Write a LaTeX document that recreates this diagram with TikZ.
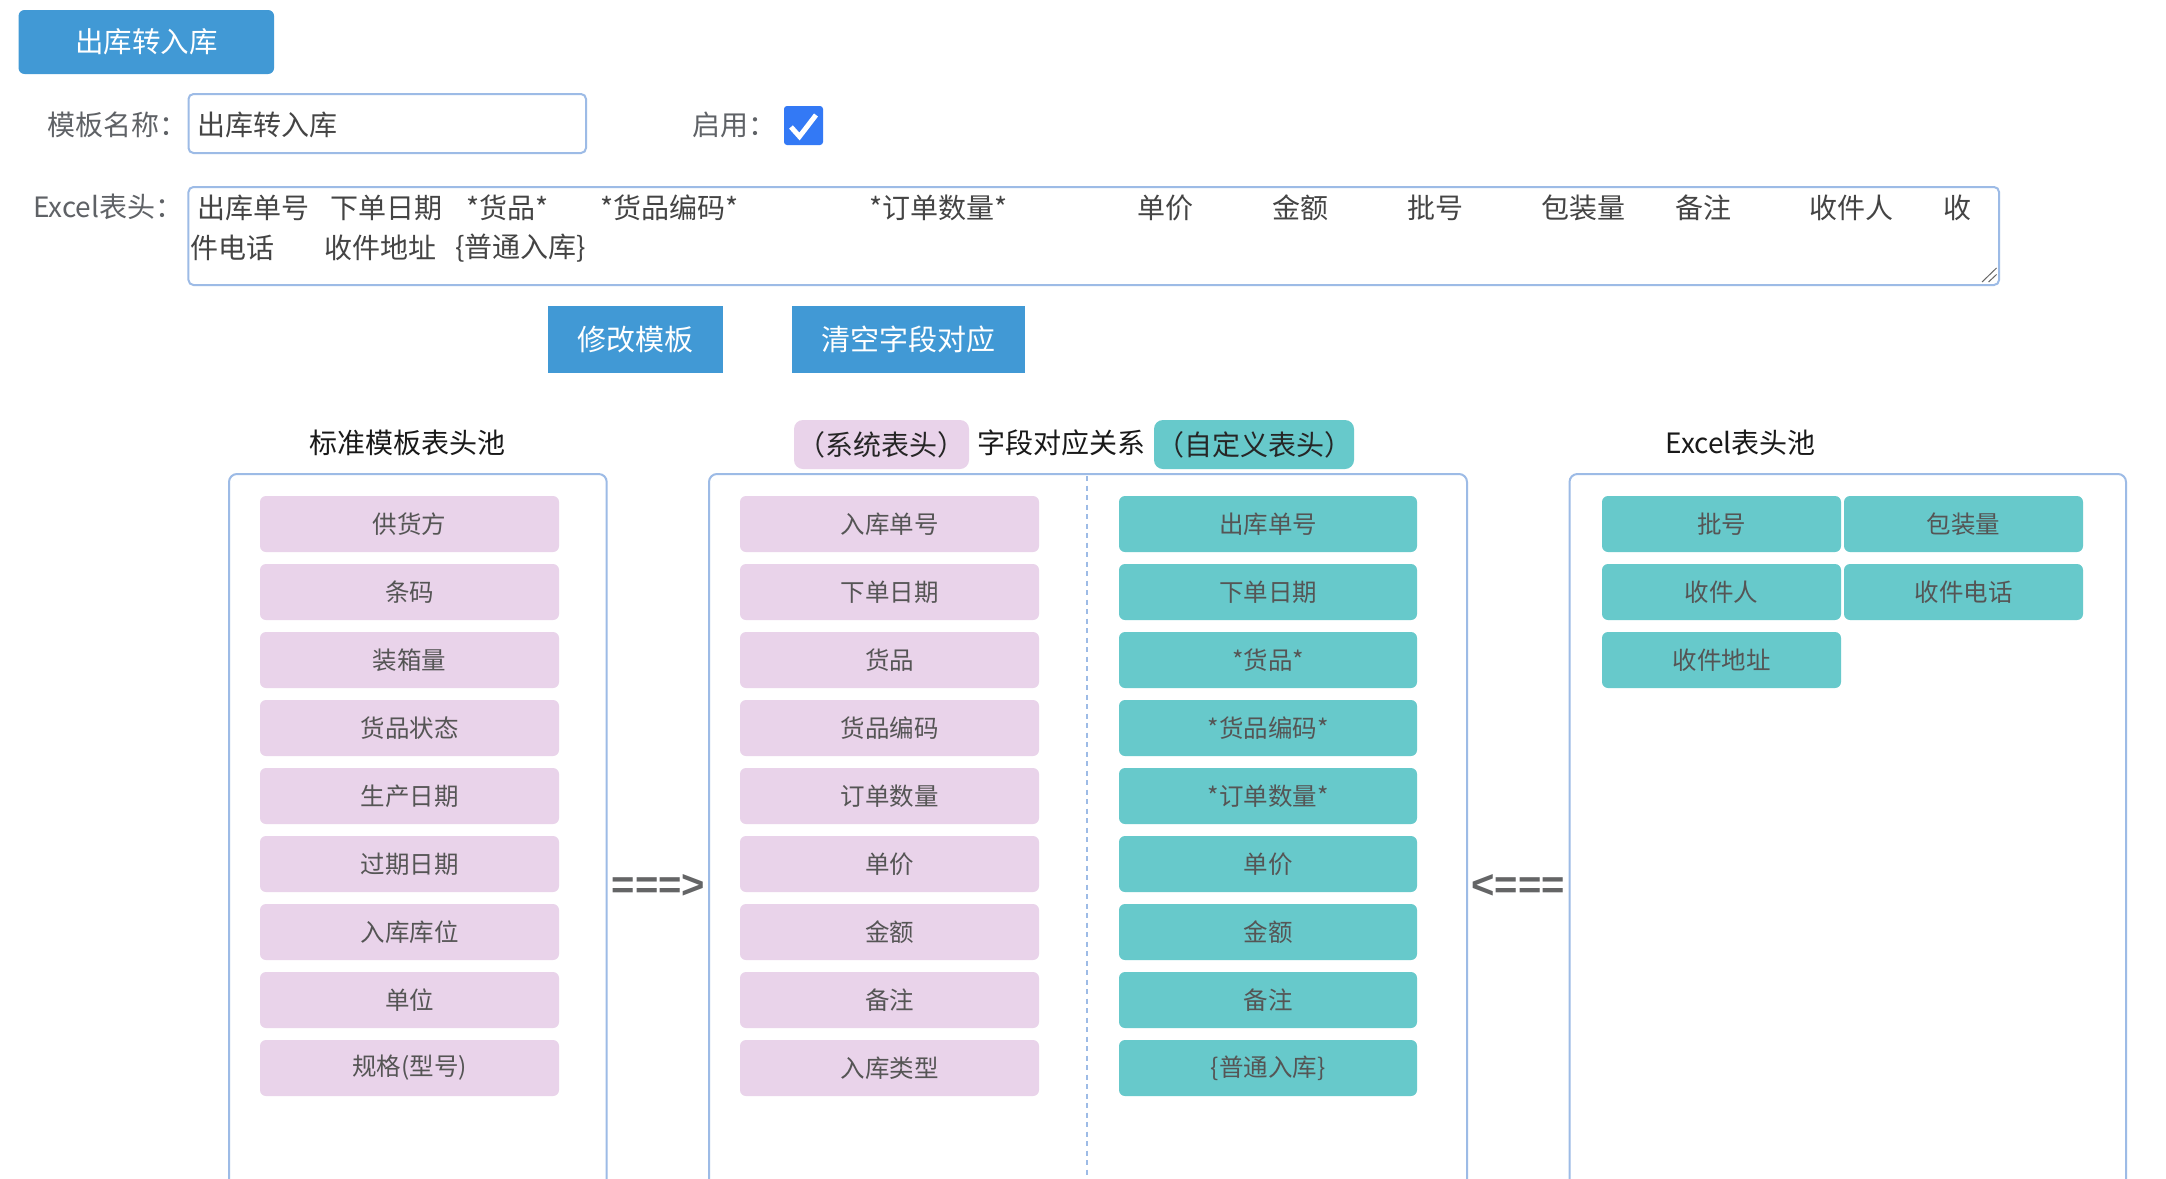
\documentclass[tikz,border=0pt]{standalone}
\usepackage{fontspec}
\setmainfont{Noto Sans CJK SC}
\newfontfamily\arrowfont{Liberation Sans}
\definecolor{btnblue}{HTML}{4199D5}
\definecolor{bordc}{HTML}{9DBBE6}
\definecolor{pinkc}{HTML}{E9D3EA}
\definecolor{tealc}{HTML}{67C9CB}
\definecolor{chkc}{HTML}{3379F5}
\definecolor{txtgray}{HTML}{555555}
\definecolor{lblgray}{HTML}{5F6266}
\definecolor{arrgray}{HTML}{646566}
\begin{document}
\begin{tikzpicture}[x=1bp,y=-1bp,
  mainfont/.style={font=\fontsize{28bp}{34bp}\selectfont},
  boxfont/.style={font=\fontsize{24.5bp}{30bp}\selectfont},
  topbtn/.style={fill=btnblue,rounded corners=6bp,text=white,inner sep=0pt,font=\fontsize{28.5bp}{34bp}\selectfont},
  actbtn/.style={fill=btnblue,text=white,inner sep=0pt,minimum height=67bp,font=\fontsize{29bp}{34bp}\selectfont},
  lbl/.style={mainfont,text=lblgray,inner sep=0pt},
  inp/.style={mainfont,text=txtgray!80!black,inner sep=0pt},
  inputbox/.style={draw=bordc,line width=2bp,rounded corners=5bp,inner sep=0pt},
  heading/.style={mainfont,text=black!90,inner sep=0pt},
  tagbox/.style={rounded corners=9bp,minimum height=49bp,inner sep=0pt,mainfont,text=black!85},
  panel/.style={draw=bordc,line width=2bp,rounded corners=8bp},
  pinkbox/.style={fill=pinkc,rounded corners=6bp,minimum width=299bp,minimum height=56bp,inner sep=0pt,boxfont,text=txtgray},
  tealbox/.style={fill=tealc,rounded corners=6bp,minimum width=298bp,minimum height=56bp,inner sep=0pt,boxfont,text=txtgray},
  smallteal/.style={tealbox,minimum width=239bp},
  arrowtxt/.style={font=\arrowfont\bfseries\fontsize{40bp}{44bp}\selectfont,text=arrgray,inner sep=0pt}
]
\useasboundingbox (0,0) rectangle (2166,1178);
\fill[white] (0,0) rectangle (2166,1178);

% top tab button
\node[topbtn,minimum width=255.5bp,minimum height=64bp] (tab) at (146.3,42) {出库转入库};

% template name row
\node[lbl,anchor=west] (lblname) at (47,125) {模板名称：};
\node[inputbox,minimum width=397.5bp,minimum height=59bp] (namebox) at (387.25,123.5) {};
\node[inp,anchor=west] (nametext) at (197,125) {出库转入库};
\node[lbl,anchor=west] (lblen) at (692,125) {启用：};
\node[fill=chkc,rounded corners=3bp,minimum width=39bp,minimum height=39bp,inner sep=0pt] (check) at (803.5,125.5) {};
\coordinate (c1) at (791,127);
\coordinate (c2) at (799.5,136.5);
\coordinate (c3) at (816,115);
\draw[white,line width=5bp,line cap=butt,line join=miter] (c1) -- (c2) -- (c3);

% excel header textarea
\node[lbl,anchor=west] (lblexcel) at (33,207) {Excel表头：};
\node[inputbox,minimum width=1810.5bp,minimum height=98bp] (area) at (1093.75,236) {};
\node[inp,anchor=west] (w1) at (197,208) {出库单号};
\node[inp,anchor=west] (w2) at (330,208) {下单日期};
\node[inp,anchor=west] (w3) at (466,208) {*货品*};
\node[inp,anchor=west] (w4) at (600,208) {*货品编码*};
\node[inp,anchor=west] (w5) at (869,208) {*订单数量*};
\node[inp,anchor=west] (w6) at (1137,208) {单价};
\node[inp,anchor=west] (w7) at (1272,208) {金额};
\node[inp,anchor=west] (w8) at (1407,208) {批号};
\node[inp,anchor=west] (w9) at (1541,208) {包装量};
\node[inp,anchor=west] (w10) at (1675,208) {备注};
\node[inp,anchor=west] (w11) at (1809,208) {收件人};
\node[inp,anchor=west] (w12) at (1943,208) {收};
\node[inp,anchor=west] (w13) at (190,248) {件电话};
\node[inp,anchor=west] (w14) at (324,248) {收件地址};
\node[inp,anchor=west] (w15) at (455,248) {\{普通入库\}};
% resize grip
\coordinate (g1) at (1982,282);
\coordinate (g2) at (1996.5,268);
\coordinate (g3) at (1988.5,282);
\coordinate (g4) at (1996.5,274.5);
\draw[gray!80!black,line width=1bp] (g1) -- (g2);
\draw[gray!80!black,line width=1bp] (g3) -- (g4);

% action buttons
\node[actbtn,minimum width=175bp] (modbtn) at (635.5,339.5) {修改模板};
\node[actbtn,minimum width=233bp] (clrbtn) at (908.5,339.5) {清空字段对应};

% headings
\node[heading] (hstd) at (407.5,443) {标准模板表头池};
\node[tagbox,fill=pinkc,minimum width=175bp] (tagsys) at (881.5,444.5) {（系统表头）};
\node[heading] (hmap) at (1061,443) {字段对应关系};
\node[tagbox,fill=tealc,minimum width=200bp] (tagcus) at (1254,444.5) {（自定义表头）};
\node[heading] (hexc) at (1740.5,443) {Excel表头池};

% panels
\draw[panel] (229,1182) -- (229,474) -- (606.7,474) -- (606.7,1182);
\draw[panel] (709,1182) -- (709,474) -- (1467,474) -- (1467,1182);
\draw[panel] (1569.5,1182) -- (1569.5,474) -- (2126,474) -- (2126,1182);
\coordinate (dtop) at (1087,476);
\coordinate (dbot) at (1087,1178);
\draw[bordc,line width=1.5bp,dash pattern=on 5bp off 4.5bp] (dtop) -- (dbot);

% standard pool
\foreach \t [count=\i from 0] in {供货方,条码,装箱量,货品状态,生产日期,过期日期,入库库位,单位,规格(型号)}
  \node[pinkbox] (L\i) at (409.5,524+68*\i) {\t};

% system headers
\foreach \t [count=\i from 0] in {入库单号,下单日期,货品,货品编码,订单数量,单价,金额,备注,入库类型}
  \node[pinkbox] (M\i) at (889.5,524+68*\i) {\t};

% custom headers
\foreach \t [count=\i from 0] in {出库单号,下单日期,*货品*,*货品编码*,*订单数量*,单价,金额,备注,\{普通入库\}}
  \node[tealbox] (C\i) at (1268,524+68*\i) {\t};

% excel pool
\node[smallteal] (E1) at (1721.5,524) {批号};
\node[smallteal] (E2) at (1963.5,524) {包装量};
\node[smallteal] (E3) at (1721.5,592) {收件人};
\node[smallteal] (E4) at (1963.5,592) {收件电话};
\node[smallteal] (E5) at (1721.5,660) {收件地址};

% arrows
\node[arrowtxt] (arrR) at (658.5,886) {===>};
\node[arrowtxt] (arrL) at (1518,886) {<===};
\end{tikzpicture}
\end{document}
